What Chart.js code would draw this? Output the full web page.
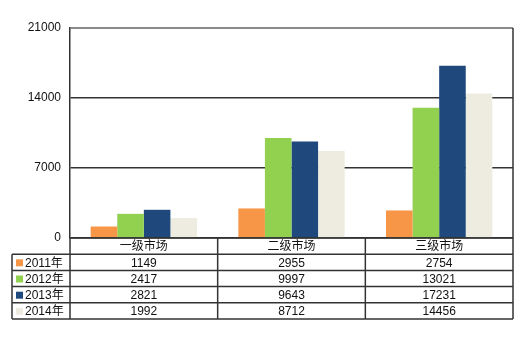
<!DOCTYPE html>
<html>
<head>
<meta charset="utf-8">
<script src="https://cdn.jsdelivr.net/npm/chart.js@4/dist/chart.umd.min.js"></script>
<style>
  html, body { margin: 0; padding: 0; background: #fff; }
  #wrap { width: 530px; height: 340px; }
</style>
</head>
<body>
<div id="wrap"><canvas id="myChart" width="530" height="340"></canvas></div>
<script>
// Chart data
const markets = ['一级市场', '二级市场', '三级市场'];
const years = ['2011年', '2012年', '2013年', '2014年'];
const sales2011 = [1149, 2955, 2754];
const sales2012 = [2417, 9997, 13021];
const sales2013 = [2821, 9643, 17231];
const sales2014 = [1992, 8712, 14456];
const yTicks = [0, 7000, 14000, 21000];

const colors = ['#F79646', '#92D050', '#1F497D', '#EEECE1'];
const series = [sales2011, sales2012, sales2013, sales2014];

const FONT = '12px "Liberation Sans", Arial, "Noto Sans CJK SC", sans-serif';

// draws the data table under the plot, lined up with the category scale
const dataTable = {
	id: 'dataTable',
	afterDraw(chart) {
		const c = chart.ctx;
		const x = chart.scales.x;
		const area = chart.chartArea;
		const rowH = 16.2;
		const tableLeft = 12;
		const top = area.bottom;
		const nRows = years.length + 1;
		const bottom = top + rowH * nRows;
		const colW = (area.right - area.left) / markets.length;

		c.save();
		c.strokeStyle = '#333';
		c.lineWidth = 1.5;

		// right border of the plot
		c.beginPath();
		c.moveTo(area.right, area.top);
		c.lineTo(area.right, top);
		c.stroke();

		// horizontal rules
		for (let r = 0; r <= nRows; r++) {
			const y = top + rowH * r;
			c.beginPath();
			c.moveTo(r === 0 ? area.left : tableLeft, y);
			c.lineTo(area.right, y);
			c.stroke();
		}
		// vertical rules
		c.beginPath();
		c.moveTo(tableLeft, top + rowH);
		c.lineTo(tableLeft, bottom);
		c.stroke();
		for (let i = 0; i <= markets.length; i++) {
			const xx = area.left + colW * i;
			c.beginPath();
			c.moveTo(xx, top);
			c.lineTo(xx, bottom);
			c.stroke();
		}

		c.font = FONT;
		c.fillStyle = '#111';
		c.textBaseline = 'middle';
		c.textAlign = 'center';
		markets.forEach((m, i) => {
			c.fillText(m, x.getPixelForValue(i), top + rowH / 2 + 1);
		});
		years.forEach((yr, r) => {
			const yMid = top + rowH * (r + 1) + rowH / 2 + 1;
			c.fillStyle = colors[r];
			c.fillRect(16, yMid - 4, 7, 7);
			c.fillStyle = '#111';
			c.textAlign = 'left';
			c.fillText(yr, 25, yMid);
			c.textAlign = 'center';
			series[r].forEach((v, i) => {
				c.fillText(String(v), x.getPixelForValue(i), yMid);
			});
		});
		c.restore();
	}
};

const ctx = document.getElementById('myChart').getContext('2d');
const salesChart = new Chart(ctx, {
	type: 'bar',
	data: {
		labels: markets,
		datasets: years.map((yr, i) => ({
			label: yr,
			data: series[i],
			backgroundColor: colors[i],
			borderWidth: 0,
			categoryPercentage: 0.72,
			barPercentage: 1,
		})),
	},
	options: {
		responsive: false,
		animation: false,
		layout: { padding: { top: 28, right: 17, bottom: 102, left: 0 } },
		plugins: {
			legend: { display: false },
			tooltip: { enabled: false },
		},
		scales: {
			x: {
				grid: { display: false },
				border: { display: false },
				ticks: { display: false },
				afterFit(scale) {
					scale.height = 0;
				},
			},
			y: {
				min: 0,
				max: 21000,
				afterBuildTicks(scale) {
					scale.ticks = yTicks.map(v => ({ value: v }));
				},
				afterFit(scale) {
					scale.width = 70;
				},
				ticks: {
					padding: 9,
					color: '#111',
					font: { family: '"Liberation Sans", Arial, sans-serif', size: 12 },
					callback: v => String(v),
				},
				grid: {
					drawTicks: false,
					color: c => c.tick.value === 21000 ? '#8a8a8a' : '#333',
					lineWidth: c => c.tick.value === 21000 ? 2 : 1.5,
				},
				border: { color: '#333', width: 1.5 },
			},
		},
	},
	plugins: [dataTable],
});
</script>
</body>
</html>
